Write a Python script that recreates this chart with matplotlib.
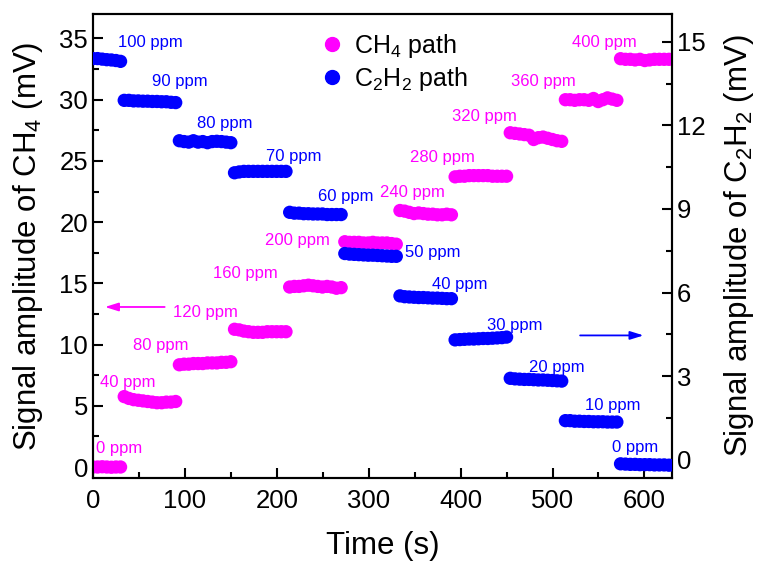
import numpy as np
import matplotlib
matplotlib.use("Agg")
import matplotlib.pyplot as plt
from matplotlib.ticker import MultipleLocator
from matplotlib.lines import Line2D

plt.rcParams['font.family'] = ['Liberation Sans', 'DejaVu Sans']
plt.rcParams['mathtext.fontset'] = 'custom'
plt.rcParams['mathtext.rm'] = 'Liberation Sans'
plt.rcParams['mathtext.it'] = 'Liberation Sans:italic'

# ---- data ----
seg_start = [0, 34, 94, 154, 214, 274, 334, 394, 454, 514, 574]
seg_end = [30, 90, 150, 210, 270, 330, 390, 450, 510, 570, 632]

ch4_ppm = [0, 40, 80, 120, 160, 200, 240, 280, 320, 360, 400]
ch4_values = [
    [0.0, 0.0, 0.02, 0.0, -0.02, 0.0, 0.0],
    [5.75, 5.6, 5.5, 5.45, 5.4, 5.35, 5.3, 5.25, 5.25, 5.3, 5.3, 5.35],
    [8.35, 8.4, 8.4, 8.45, 8.45, 8.45, 8.5, 8.5, 8.5, 8.55, 8.55, 8.6],
    [11.25, 11.2, 11.1, 11.05, 11.0, 11.0, 11.0, 11.05, 11.05, 11.05, 11.05, 11.05],
    [14.7, 14.75, 14.75, 14.8, 14.85, 14.8, 14.75, 14.7, 14.75, 14.7, 14.6, 14.65],
    [18.4, 18.35, 18.35, 18.35, 18.3, 18.3, 18.35, 18.3, 18.3, 18.3, 18.25, 18.2],
    [20.95, 20.9, 20.8, 20.7, 20.75, 20.7, 20.65, 20.65, 20.6, 20.6, 20.65, 20.6],
    [23.7, 23.75, 23.75, 23.8, 23.8, 23.8, 23.8, 23.8, 23.75, 23.75, 23.75, 23.75],
    [27.3, 27.25, 27.2, 27.15, 27.1, 26.75, 26.9, 26.95, 26.85, 26.75, 26.65, 26.6],
    [30.0, 30.0, 29.95, 30.0, 30.0, 29.95, 30.1, 29.85, 30.0, 30.15, 30.05, 29.95],
    [33.35, 33.3, 33.3, 33.25, 33.3, 33.2, 33.25, 33.3, 33.3, 33.3, 33.3, 33.3],
]

c2h2_ppm = [100, 90, 80, 70, 60, 50, 40, 30, 20, 10, 0]
c2h2_values = [
    [14.4, 14.4, 14.38, 14.36, 14.35, 14.33, 14.3],
    [12.9, 12.9, 12.88, 12.88, 12.87, 12.87, 12.86, 12.86, 12.85, 12.85, 12.83, 12.82],
    [11.45, 11.42, 11.4, 11.45, 11.4, 11.42, 11.38, 11.42, 11.43, 11.42, 11.4, 11.38],
    [10.3, 10.33, 10.35, 10.35, 10.35, 10.35, 10.35, 10.35, 10.35, 10.35, 10.35, 10.35],
    [8.88, 8.85, 8.85, 8.83, 8.83, 8.82, 8.82, 8.82, 8.8, 8.8, 8.8, 8.8],
    [7.4, 7.38, 7.37, 7.36, 7.35, 7.34, 7.34, 7.33, 7.32, 7.31, 7.3, 7.3],
    [5.88, 5.85, 5.84, 5.83, 5.82, 5.82, 5.81, 5.8, 5.8, 5.79, 5.78, 5.78],
    [4.3, 4.31, 4.32, 4.33, 4.33, 4.34, 4.35, 4.35, 4.36, 4.37, 4.38, 4.4],
    [2.92, 2.9, 2.89, 2.88, 2.88, 2.87, 2.86, 2.86, 2.85, 2.84, 2.83, 2.82],
    [1.4, 1.4, 1.38, 1.38, 1.37, 1.37, 1.36, 1.36, 1.36, 1.35, 1.35, 1.35],
    [-0.15, -0.16, -0.17, -0.17, -0.18, -0.18, -0.18, -0.19, -0.19, -0.19, -0.2, -0.2],
]

# label anchor positions (data coords)
ch4_label_x = [3, 8, 43, 87, 131, 187, 312, 345, 391, 455, 521]
ch4_label_y = [1.55, 6.94, 9.89, 12.66, 15.77, 18.46, 22.39, 25.25, 28.6, 31.45, 34.64]
c2h2_label_x = [27, 64, 113, 188, 245, 339, 369, 429, 474, 535, 565]
c2h2_label_y = [14.97, 13.57, 12.06, 10.88, 9.44, 7.43, 6.28, 4.81, 3.30, 1.94, 0.43]

MAG = '#FF00FF'
BLU = '#0000FF'

fig = plt.figure(figsize=(7.64, 5.72), dpi=100)
ax = fig.add_axes([0.1217, 0.1643, 0.7579, 0.8112])
ax2 = ax.twinx()

def seg_xy(values):
    xs, ys = [], []
    for s, e, v in zip(seg_start, seg_end, values):
        xs.extend(np.linspace(s, e, len(v)))
        ys.extend(v)
    return np.array(xs), np.array(ys)

x1, y1 = seg_xy(ch4_values)
x2, y2 = seg_xy(c2h2_values)

ax.scatter(x1, y1, s=92, color=MAG, edgecolors='none', zorder=3)
ax2.scatter(x2, y2, s=92, color=BLU, edgecolors='none', zorder=3)

for p, lx, ly in zip(ch4_ppm, ch4_label_x, ch4_label_y):
    ax.text(lx, ly, f'{p} ppm', color=MAG, fontsize=12, ha='left', va='center')
for p, lx, ly in zip(c2h2_ppm, c2h2_label_x, c2h2_label_y):
    ax2.text(lx, ly, f'{p} ppm', color=BLU, fontsize=12, ha='left', va='center')

ax.set_xlim(0, 630)
ax.set_ylim(-0.9, 37)
ax2.set_ylim(-0.66, 16.0)

ax.xaxis.set_major_locator(MultipleLocator(100))
ax.xaxis.set_minor_locator(MultipleLocator(50))
ax.yaxis.set_major_locator(MultipleLocator(5))
ax.yaxis.set_minor_locator(MultipleLocator(2.5))
ax2.yaxis.set_major_locator(MultipleLocator(3))
ax2.yaxis.set_minor_locator(MultipleLocator(1.5))

for a in (ax, ax2):
    a.tick_params(which='major', direction='in', length=7, width=1.5, labelsize=18.5)
    a.tick_params(which='minor', direction='in', length=4, width=1.5)
    for sp in a.spines.values():
        sp.set_linewidth(1.5)
ax.tick_params(axis='both', which='both', top=False, right=False)
ax.tick_params(axis='x', pad=8)
ax2.tick_params(axis='y', which='both', left=False, right=True)

ax.set_xlabel('Time (s)', fontsize=22.5, labelpad=13)
ax.set_ylabel('Signal amplitude of CH$_\\mathregular{4}$ (mV)', fontsize=22.5, labelpad=10)
ax2.set_ylabel('Signal amplitude of C$_\\mathregular{2}$H$_\\mathregular{2}$ (mV)', fontsize=22.5, labelpad=12)

# arrows
ax.annotate('', xy=(13, 13.07), xytext=(78, 13.07),
            arrowprops=dict(arrowstyle='-|>,head_length=0.8,head_width=0.25', color=MAG, lw=1.3, shrinkA=0, shrinkB=0))
ax2.annotate('', xy=(599, 4.46), xytext=(530, 4.46),
             arrowprops=dict(arrowstyle='-|>,head_length=0.8,head_width=0.25', color=BLU, lw=1.3, shrinkA=0, shrinkB=0))

handles = [Line2D([], [], marker='o', linestyle='none', color=MAG, markersize=10, label='CH$_\\mathregular{4}$ path'),
           Line2D([], [], marker='o', linestyle='none', color=BLU, markersize=10, label='C$_\\mathregular{2}$H$_\\mathregular{2}$ path')]
ax2.legend(handles=handles, loc='upper left', bbox_to_anchor=(0.35, 1.01), frameon=False,
           fontsize=18, handletextpad=0.35, labelspacing=0.2, handlelength=1.1)

fig.savefig('out.png', dpi=100)
